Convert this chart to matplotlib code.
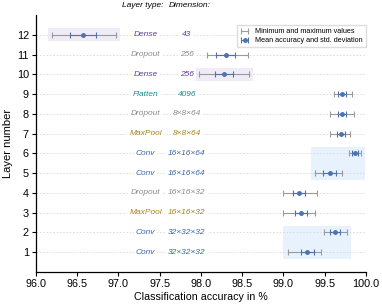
#! /usr/bin/env python3
"""Plot per-layer classification accuracy."""

import matplotlib.pyplot as plt
import numpy as np
from matplotlib.patches import Rectangle

plt.rcParams.update({"font.family": ["Liberation Sans", "DejaVu Sans"], "font.size": 7})

layers = np.arange(1, 13)
layer_types = ["Conv", "Conv", "MaxPool", "Dropout", "Conv", "Conv",
               "MaxPool", "Dropout", "Flatten", "Dense", "Dropout", "Dense"]
dims = ["32×32×32", "32×32×32", "16×16×32", "16×16×32", "16×16×64", "16×16×64",
        "8×8×64", "8×8×64", "4096", "256", "256", "43"]
acc_min = [99.05, 99.49, 99.00, 99.00, 99.38, 99.80, 99.56, 99.57, 99.61, 97.98, 98.07, 96.20]
acc_max = [99.46, 99.77, 99.38, 99.41, 99.71, 99.94, 99.81, 99.85, 99.83, 98.58, 98.57, 96.97]
acc_mean = [99.29, 99.62, 99.21, 99.19, 99.56, 99.87, 99.70, 99.71, 99.71, 98.28, 98.30, 96.57]
acc_std = [0.075, 0.06, 0.075, 0.075, 0.08, 0.035, 0.045, 0.05, 0.045, 0.105, 0.115, 0.155]

# groups of layers that get a shaded background
highlights = [((1, 2), "#e8f2fd"), ((5, 6), "#e8f2fd"), ((10,), "#efecf8"), ((12,), "#efecf8")]

type_colors = {
    "Conv": "#3a67a8",
    "MaxPool": "#a5861c",
    "Dropout": "#8c8c8c",
    "Flatten": "#1f8a8a",
    "Dense": "#5b3c9e",
}

blue = "#4c72b0"
grey = "#9a9a9a"

fig = plt.figure(figsize=(3.82, 3.07), dpi=100)
ax = fig.add_axes([0.094, 0.114, 0.864, 0.837])

acc_min = np.array(acc_min)
acc_max = np.array(acc_max)
acc_mean = np.array(acc_mean)

for group, color in highlights:
    idx = [g - 1 for g in group]
    x0 = acc_min[idx].min() - 0.05
    x1 = acc_max[idx].max() + 0.05
    ax.add_patch(Rectangle((x0, min(group) - 0.33), x1 - x0, max(group) - min(group) + 0.66,
                           facecolor=color, edgecolor="none", zorder=0))

for y in layers:
    ax.axhline(y, color="#d8d8d8", lw=0.6, ls=(0, (2, 2)), zorder=0.5)

ax.errorbar(acc_mean, layers, xerr=[acc_mean - acc_min, acc_max - acc_mean], fmt="none",
            ecolor=grey, elinewidth=0.8, capsize=2.5, capthick=0.8, zorder=2,
            label="Minimum and maximum values")
ax.errorbar(acc_mean, layers, xerr=acc_std, fmt="o", ms=2.5, color=blue, ecolor=blue,
            elinewidth=0.8, capsize=2.5, capthick=0.8, zorder=3,
            label="Mean accuracy and std. deviation")

for y, ltype, dim in zip(layers, layer_types, dims):
    c = type_colors[ltype]
    ax.text(97.33, y, ltype, color=c, style="italic", fontsize=6, ha="center", va="center",
            bbox=dict(facecolor="white", edgecolor="none", pad=1.5), zorder=1)
    ax.text(97.83, y, dim, color=c, style="italic", fontsize=6, ha="center", va="center",
            bbox=dict(facecolor="white", edgecolor="none", pad=1.5), zorder=1)

ax.text(97.29, 13.47, "Layer type:", style="italic", fontsize=6, ha="center", va="center",
        clip_on=False)
ax.text(97.86, 13.47, "Dimension:", style="italic", fontsize=6, ha="center", va="center",
        clip_on=False)

ax.set_xlim(96, 100)
ax.set_ylim(0, 13)
ax.set_xticks(np.arange(96, 100.01, 0.5))
ax.set_xticklabels([f"{v:.1f}" for v in np.arange(96, 100.01, 0.5)])
ax.set_yticks(layers)
ax.set_xlabel("Classification accuracy in %", fontsize=7.7, labelpad=2)
ax.set_ylabel("Layer number", fontsize=8, labelpad=3)
for side in ("top", "right"):
    ax.spines[side].set_visible(False)
for side in ("left", "bottom"):
    ax.spines[side].set_linewidth(0.9)
ax.tick_params(length=3, width=0.8, pad=2, labelsize=7.8)

ax.legend(loc="upper right", bbox_to_anchor=(1.0, 0.96), fontsize=5.2, frameon=True,
          fancybox=False, edgecolor="#dddddd", framealpha=1, borderaxespad=0,
          handlelength=1.2, handletextpad=0.9, borderpad=0.4, labelspacing=0.3)

plt.savefig("out.png", dpi=100)
